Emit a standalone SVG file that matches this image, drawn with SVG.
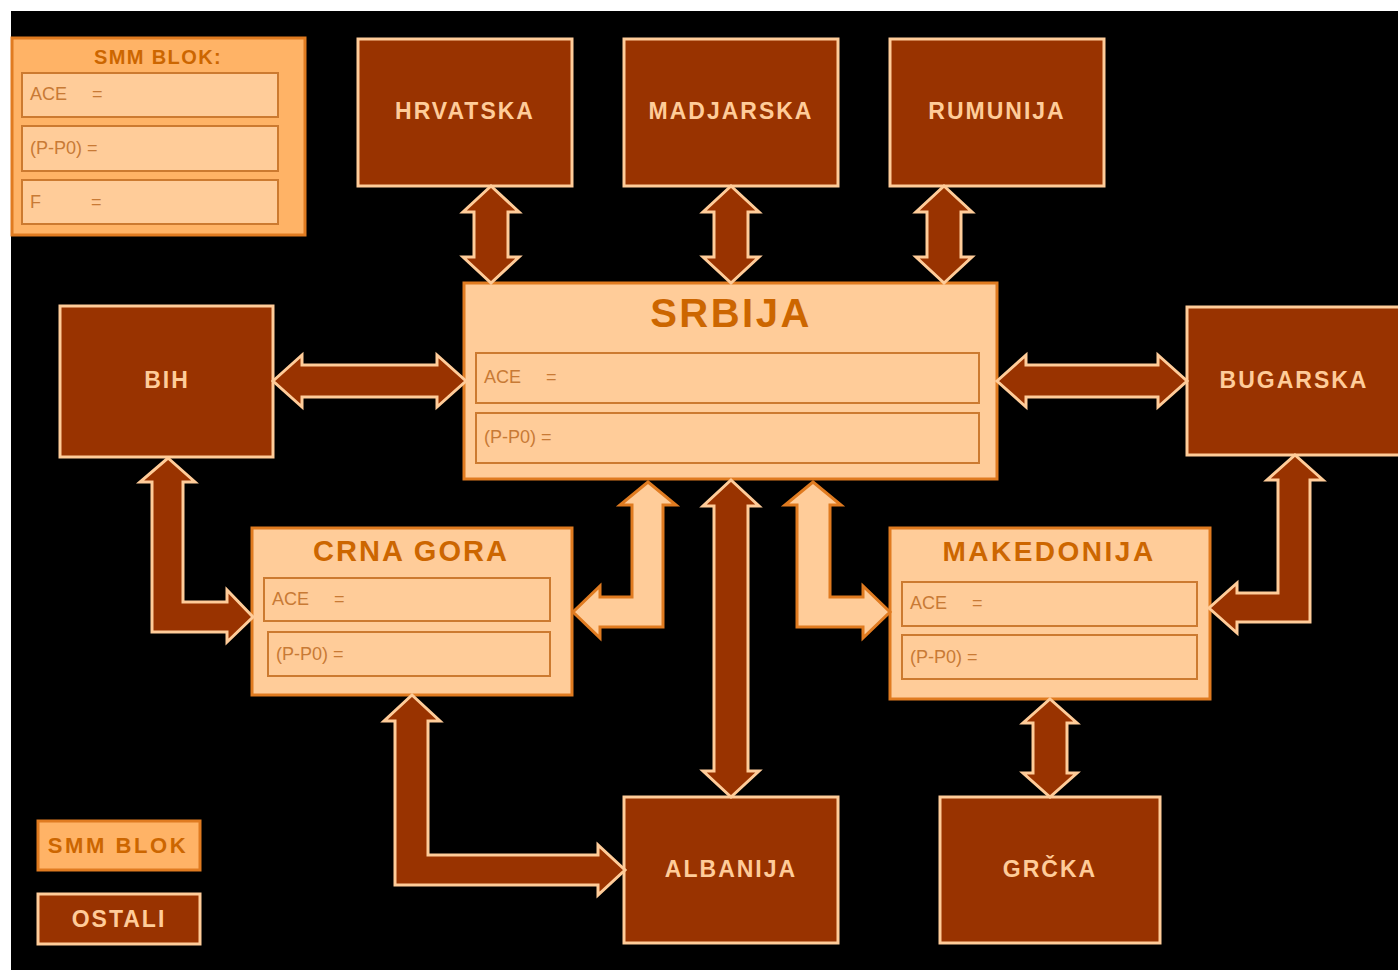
<svg xmlns="http://www.w3.org/2000/svg" width="1398" height="970" viewBox="0 0 1398 970">
<style>
.dark{fill:#993300;stroke:#ffcc99;stroke-width:3}
.light{fill:#ffcc99;stroke:#e07b20;stroke-width:3}
.smm{fill:#ffb366;stroke:#e07b20;stroke-width:3}
.inner{fill:#ffcc99;stroke:#cc7a30;stroke-width:2}
.dt{font-family:"Liberation Sans",Arial,sans-serif;font-weight:bold;font-size:23px;fill:#ffcc99;text-anchor:middle;letter-spacing:2px}
.tt{font-family:"Liberation Sans",Arial,sans-serif;font-weight:bold;fill:#cc6600;text-anchor:middle}
.it{font-family:"Liberation Sans",Arial,sans-serif;font-size:18px;fill:#c87a35}
.ad{fill:#993300;stroke:#ffcc99;stroke-width:3;stroke-linejoin:miter}
.al{fill:#ffcc99;stroke:#e07b20;stroke-width:3;stroke-linejoin:miter}
</style>
<rect x="0" y="0" width="1398" height="970" fill="#ffffff"/>
<rect x="11" y="11" width="1387" height="959" fill="#000000"/>

<g id="smm-blok-panel">
<rect class="smm" x="12" y="38" width="293" height="197"/>
<text class="tt" x="158" y="64" font-size="20" letter-spacing="1.4">SMM BLOK:</text>
<rect class="inner" x="22" y="73" width="256" height="44"/>
<text class="it" x="30" y="100" xml:space="preserve">ACE     =</text>
<rect class="inner" x="22" y="126" width="256" height="45"/>
<text class="it" x="30" y="154" xml:space="preserve">(P-P0) =</text>
<rect class="inner" x="22" y="180" width="256" height="44"/>
<text class="it" x="30" y="208" xml:space="preserve">F          =</text>
</g>

<g id="hrvatska"><rect class="dark" x="358" y="39" width="214" height="147"/><text class="dt" x="465" y="119">HRVATSKA</text></g>
<g id="madjarska"><rect class="dark" x="624" y="39" width="214" height="147"/><text class="dt" x="731" y="119">MADJARSKA</text></g>
<g id="rumunija"><rect class="dark" x="890" y="39" width="214" height="147"/><text class="dt" x="997" y="119">RUMUNIJA</text></g>
<g id="bih"><rect class="dark" x="60" y="306" width="213" height="151"/><text class="dt" x="167" y="388">BIH</text></g>
<g id="bugarska"><rect class="dark" x="1187" y="307" width="230" height="148"/><text class="dt" x="1294" y="388">BUGARSKA</text></g>
<g id="albanija"><rect class="dark" x="624" y="797" width="214" height="146"/><text class="dt" x="731" y="877">ALBANIJA</text></g>
<g id="grcka"><rect class="dark" x="940" y="797" width="220" height="146"/><text class="dt" x="1050" y="877">GRČKA</text></g>

<g id="srbija">
<rect class="light" x="464" y="283" width="533" height="196"/>
<text class="tt" x="731" y="327" font-size="40" letter-spacing="2.5">SRBIJA</text>
<rect class="inner" x="476" y="353" width="503" height="50"/>
<text class="it" x="484" y="383" xml:space="preserve">ACE     =</text>
<rect class="inner" x="476" y="413" width="503" height="50"/>
<text class="it" x="484" y="443" xml:space="preserve">(P-P0) =</text>
</g>

<g id="crna-gora">
<rect class="light" x="252" y="528" width="320" height="167"/>
<text class="tt" x="411" y="561" font-size="29" letter-spacing="2">CRNA GORA</text>
<rect class="inner" x="264" y="578" width="286" height="43"/>
<text class="it" x="272" y="605" xml:space="preserve">ACE     =</text>
<rect class="inner" x="268" y="632" width="282" height="44"/>
<text class="it" x="276" y="660" xml:space="preserve">(P-P0) =</text>
</g>

<g id="makedonija">
<rect class="light" x="890" y="528" width="320" height="171"/>
<text class="tt" x="1049" y="561" font-size="28" letter-spacing="2.5">MAKEDONIJA</text>
<rect class="inner" x="902" y="582" width="295" height="44"/>
<text class="it" x="910" y="609" xml:space="preserve">ACE     =</text>
<rect class="inner" x="902" y="635" width="295" height="44"/>
<text class="it" x="910" y="663" xml:space="preserve">(P-P0) =</text>
</g>

<g id="legend-smm"><rect class="smm" x="38" y="821" width="162" height="49"/><text class="tt" x="118" y="853" font-size="22" letter-spacing="2.6">SMM BLOK</text></g>
<g id="legend-ostali"><rect class="dark" x="38" y="894" width="162" height="50"/><text class="dt" x="119" y="927" font-size="22" letter-spacing="2.6">OSTALI</text></g>

<g id="connectors">
<path class="ad" d="M491,186 L519,212 L508,212 L508,257 L519,257 L491,283 L463,257 L474,257 L474,212 L463,212 Z"/>
<path class="ad" d="M731,186 L759,212 L748,212 L748,257 L759,257 L731,283 L703,257 L714,257 L714,212 L703,212 Z"/>
<path class="ad" d="M944,186 L972,212 L961,212 L961,257 L972,257 L944,283 L916,257 L927,257 L927,212 L916,212 Z"/>
<path class="ad" d="M273,381 L302,355 L302,365 L437,365 L437,355 L466,381 L437,407 L437,397 L302,397 L302,407 Z"/>
<path class="ad" d="M997,381 L1026,355 L1026,365 L1158,365 L1158,355 L1187,381 L1158,407 L1158,397 L1026,397 L1026,407 Z"/>
<path class="ad" d="M731,480 L759,506 L748,506 L748,771 L759,771 L731,797 L703,771 L714,771 L714,506 L703,506 Z"/>
<path class="ad" d="M1050,699 L1077,723 L1067,723 L1067,773 L1077,773 L1050,797 L1023,773 L1033,773 L1033,723 L1023,723 Z"/>
<path class="ad" d="M168,458 L195,482 L183,482 L183,602 L227,602 L227,590 L253,617 L227,642 L227,632 L152,632 L152,482 L140,482 Z"/>
<path class="al" d="M648,482 L676,505 L663,505 L663,627 L600,627 L600,638 L573,612 L600,586 L600,597 L632,597 L632,505 L620,505 Z"/>
<path class="al" d="M813,482 L841,505 L830,505 L830,597 L863,597 L863,586 L890,612 L863,638 L863,627 L797,627 L797,505 L785,505 Z"/>
<path class="ad" d="M1295,455 L1323,480 L1310,480 L1310,622 L1237,622 L1237,633 L1209,608 L1237,583 L1237,593 L1278,593 L1278,480 L1267,480 Z"/>
<path class="ad" d="M412,695 L440,721 L428,721 L428,855 L598,855 L598,845 L625,870 L598,895 L598,885 L395,885 L395,721 L384,721 Z"/>
</g>
</svg>
